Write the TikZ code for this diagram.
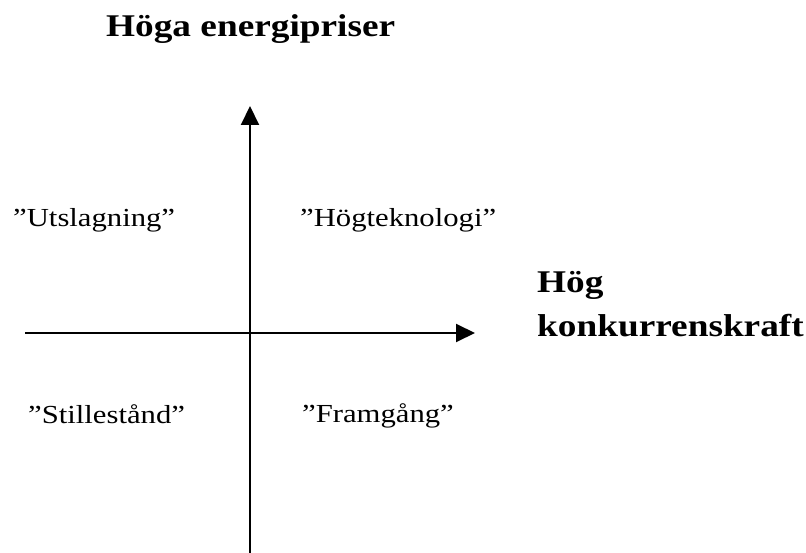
\documentclass[tikz,border=0pt]{standalone}
\usepackage{fontspec}
\setmainfont{Liberation Serif}[FakeStretch=1.18]
\usetikzlibrary{arrows.meta}
\begin{document}
\begin{tikzpicture}[x=1pt,y=-1pt,
  axis/.style={line width=2pt,black,-{Triangle[width=18pt,length=19pt]}},
  heading/.style={anchor=base west,inner sep=0pt,font=\fontsize{31.6}{36}\selectfont\bfseries},
  quad/.style={anchor=base west,inner sep=0pt,font=\fontsize{26}{30}\selectfont}]
\useasboundingbox (0,0) rectangle (806,553);
\coordinate (vbot) at (250,553);
\coordinate (vtop) at (250,106);
\coordinate (hleft) at (25,333);
\coordinate (hright) at (475,333);
\draw[axis] (vbot) -- (vtop);
\draw[axis] (hleft) -- (hright);
\node[heading] (ytitle) at (106,37) {Höga energipriser};
\node[heading] (xtitle1) at (537,293) {Hög};
\node[heading] (xtitle2) at (537,337) {konkurrenskraft};
\node[quad] (q2) at (13,227) {”Utslagning”};
\node[quad] (q1) at (300,227) {”Högteknologi”};
\node[quad] (q3) at (28,423) {”Stillestånd”};
\node[quad] (q4) at (302,422) {”Framgång”};
\end{tikzpicture}
\end{document}
